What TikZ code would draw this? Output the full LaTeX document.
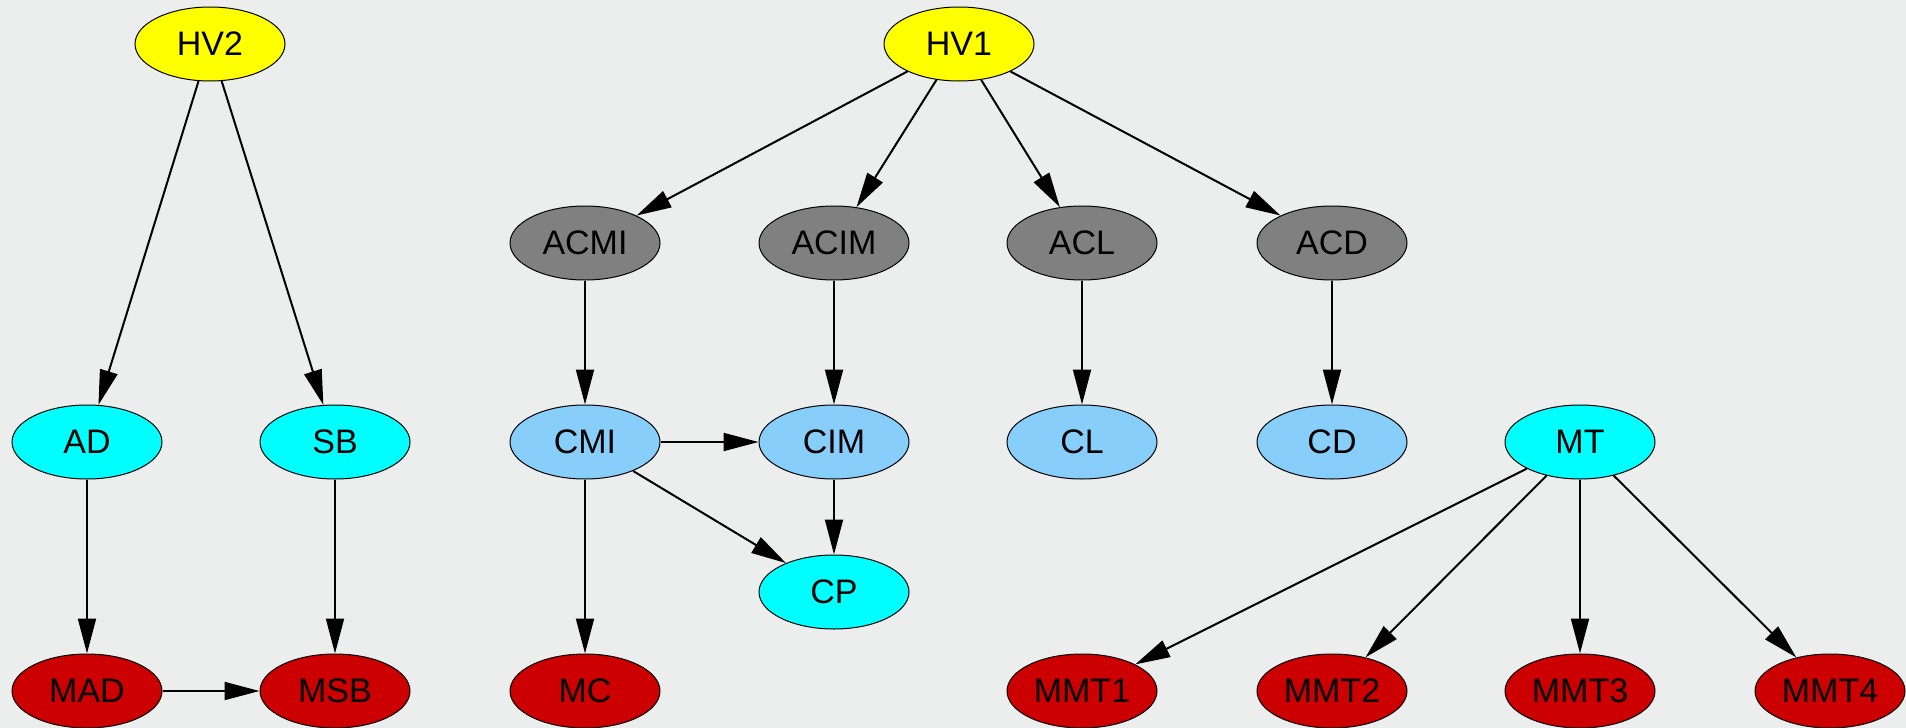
\documentclass[tikz,border=0pt]{standalone}
\usepackage{fontspec}
\setmainfont{Liberation Sans}
\usetikzlibrary{shapes.geometric,arrows.meta}
\definecolor{paper}{HTML}{ECEEEE}
\definecolor{hvyellow}{HTML}{FFFF00}
\definecolor{acgray}{HTML}{808080}
\definecolor{cblue}{HTML}{87CEFA}
\definecolor{ccyan}{HTML}{00FFFF}
\definecolor{mred}{HTML}{CC0000}

\begin{document}
\begin{tikzpicture}[x=1pt,y=-1pt,
  ell/.style={ellipse,draw=black,line width=1pt,minimum width=150pt,minimum height=74pt,inner sep=0pt,font=\fontsize{34}{40}\selectfont},
  edge/.style={-{Triangle[length=35pt,width=18pt]},line width=2pt}]
\fill[paper] (0,0) rectangle (1906,728);
\useasboundingbox (0,0) rectangle (1906,728);
% top row
\node[ell,fill=hvyellow] (HV2) at (210,44) {HV2};
\node[ell,fill=hvyellow] (HV1) at (959,44) {HV1};
% second row
\node[ell,fill=acgray] (ACMI) at (585,243) {ACMI};
\node[ell,fill=acgray] (ACIM) at (834,243) {ACIM};
\node[ell,fill=acgray] (ACL) at (1082,243) {ACL};
\node[ell,fill=acgray] (ACD) at (1332,243) {ACD};
% third row
\node[ell,fill=ccyan] (AD) at (87,442) {AD};
\node[ell,fill=ccyan] (SB) at (335,442) {SB};
\node[ell,fill=cblue] (CMI) at (585,442) {CMI};
\node[ell,fill=cblue] (CIM) at (834,442) {CIM};
\node[ell,fill=cblue] (CL) at (1082,442) {CL};
\node[ell,fill=cblue] (CD) at (1332,442) {CD};
\node[ell,fill=ccyan] (MT) at (1580,442) {MT};
\node[ell,fill=ccyan] (CP) at (834,592) {CP};
% bottom row
\node[ell,fill=mred] (MAD) at (87,691) {MAD};
\node[ell,fill=mred] (MSB) at (335,691) {MSB};
\node[ell,fill=mred] (MC) at (585,691) {MC};
\foreach \n/\x in {1/1082,2/1332,3/1580,4/1830}
\node[ell,fill=mred] (MMT\n) at (\x,691) {MMT\n};
% edges
\foreach \a/\b in {HV2/AD,HV2/SB,HV1/ACMI,HV1/ACIM,HV1/ACL,HV1/ACD,
  ACMI/CMI,ACIM/CIM,ACL/CL,ACD/CD,CMI/CIM,CMI/CP,CMI/MC,CIM/CP,
  AD/MAD,SB/MSB,MAD/MSB}
\draw[edge] (\a) -- (\b);
\foreach \n in {1,2,3,4}
\draw[edge] (MT) -- (MMT\n);
\end{tikzpicture}
\end{document}
